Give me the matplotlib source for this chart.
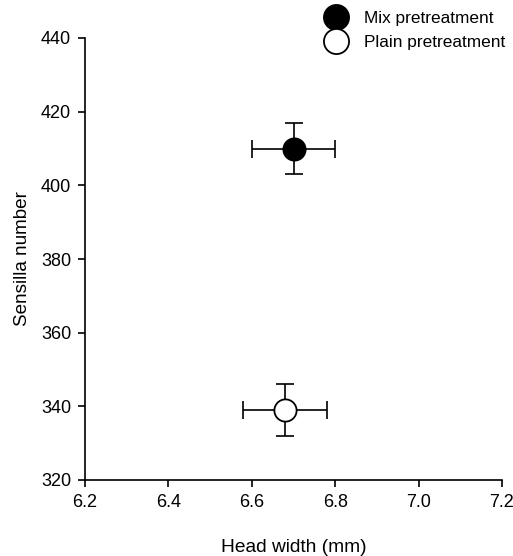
import matplotlib
matplotlib.use("Agg")
import matplotlib.pyplot as plt

plt.rcParams['font.family'] = ['Liberation Sans', 'DejaVu Sans']

groups = ["Mix pretreatment", "Plain pretreatment"]
head_width = [6.70, 6.68]
head_width_err = [0.10, 0.10]
sensilla = [410, 339]
sensilla_err = [7, 7]
face_colors = ["black", "white"]

xticks = [6.2, 6.4, 6.6, 6.8, 7.0, 7.2]
yticks = [320, 340, 360, 380, 400, 420, 440]

fig = plt.figure(figsize=(5.13, 5.56), dpi=100)
ax = fig.add_axes([85/513, 1 - 480/556, (502-85)/513, (480-38)/556])

handles = []
for g, x, xe, y, ye, fc in zip(groups, head_width, head_width_err, sensilla, sensilla_err, face_colors):
    ax.errorbar(x, y, xerr=xe, yerr=ye, fmt='none', ecolor='black',
                elinewidth=1.2, capsize=6.5, capthick=1.2, zorder=2)
    h, = ax.plot(x, y, 'o', markersize=16, markerfacecolor=fc,
                 markeredgecolor='black', markeredgewidth=1.3, zorder=3,
                 linestyle='none', label=g)
    handles.append(h)

ax.set_xlim(6.2, 7.2)
ax.set_ylim(320, 440)
ax.set_xticks(xticks)
ax.set_xticklabels([f"{t:.1f}" for t in xticks])
ax.set_yticks(yticks)
ax.set_yticklabels([str(t) for t in yticks])
ax.spines['top'].set_visible(False)
ax.spines['right'].set_visible(False)
for s in ['left', 'bottom']:
    ax.spines[s].set_linewidth(1.2)
ax.tick_params(direction='out', length=5, width=1.2, labelsize=13, pad=5)
ax.set_xlabel("Head width (mm)", fontsize=13.8, labelpad=20)
ax.set_ylabel("Sensilla number", fontsize=13.6, labelpad=7)

leg = fig.legend(handles=handles, loc='upper left', bbox_to_anchor=(318/513, 1 - 4/556),
                 frameon=False, fontsize=12.4, handletextpad=1.0, labelspacing=0.55,
                 borderaxespad=0, handlelength=1.3, markerscale=1.13)

fig.savefig("out.png", dpi=100)
